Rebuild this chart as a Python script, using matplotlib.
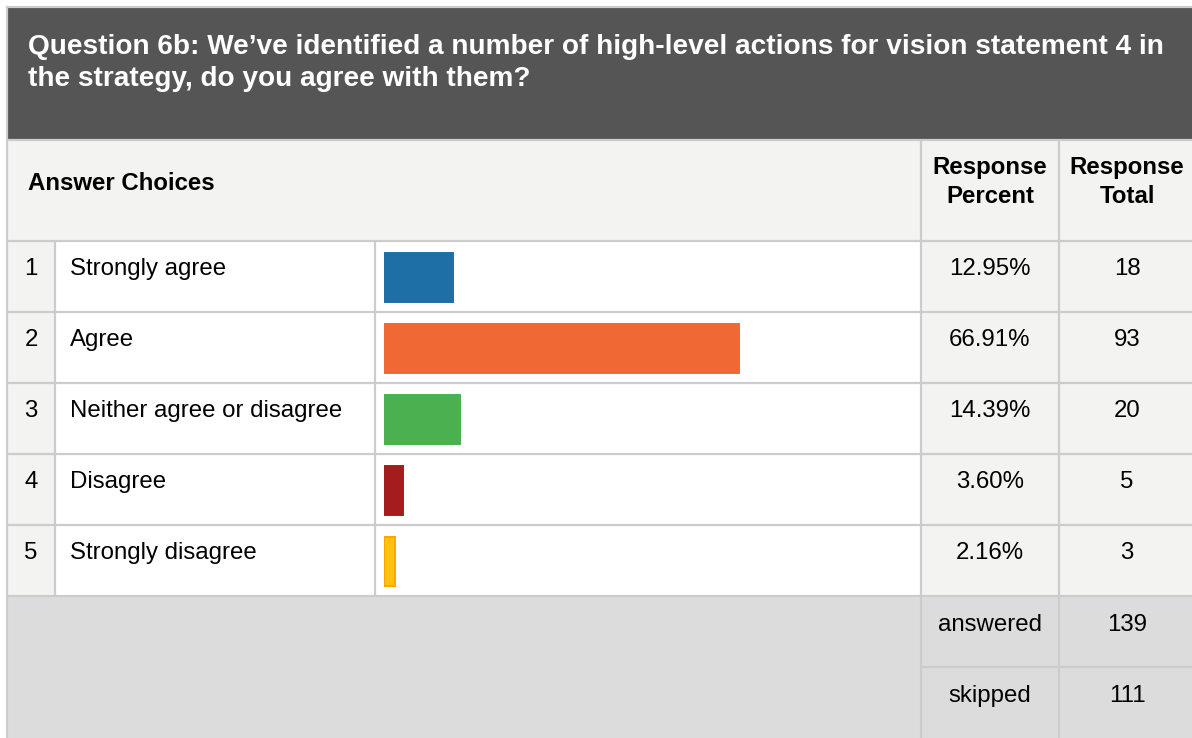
import matplotlib
matplotlib.use("Agg")
import matplotlib.pyplot as plt
from matplotlib.patches import Rectangle

plt.rcParams['font.family'] = ['Liberation Sans', 'DejaVu Sans']

title = "Question 6b: We\u2019ve identified a number of high-level actions for vision statement 4 in\nthe strategy, do you agree with them?"
choices = ["Strongly agree", "Agree", "Neither agree or disagree", "Disagree", "Strongly disagree"]
percents = [12.95, 66.91, 14.39, 3.60, 2.16]
totals = [18, 93, 20, 5, 3]
answered = 139
skipped = 111
colors = ["#1d6fa5", "#f06934", "#4ab050", "#a51c1f", "#ffc20e"]
edges = ["#1d6fa5", "#f06934", "#4ab050", "#a51c1f", "#ffa500"]

W, H = 1192, 738
fig = plt.figure(figsize=(W / 100, H / 100), dpi=100)
fig.patch.set_facecolor("white")

# background table drawn in pixel coordinates
ax = fig.add_axes([0, 0, 1, 1])
ax.set_xlim(0, W)
ax.set_ylim(H, 0)
ax.axis("off")

grid = "#cccccc"
light = "#f3f3f2"
foot = "#dcdcdc"
row_top = 241
row_h = 71
cols = [8, 55, 375, 921, 1059, W]
fs = 17.3


def rect(x0, y0, x1, y1, color):
    ax.add_patch(Rectangle((x0, y0), x1 - x0, y1 - y0, facecolor=color, edgecolor="none", zorder=0))


def hline(y, x0, x1):
    ax.plot([x0, x1], [y, y], color=grid, lw=1.6, zorder=1, solid_capstyle="butt")


def vline(x, y0, y1):
    ax.plot([x, x], [y0, y1], color=grid, lw=1.6, zorder=1, solid_capstyle="butt")


# outer border
hline(6.5, 6, W)
vline(6.8, 6, H)

# title band
rect(8, 7, W, 139, "#545554")
ax.text(28, 63, title, color="white", fontsize=20.2, fontweight="bold",
        va="center", ha="left", linespacing=1.3)

# header row
rect(8, 140, W, row_top, light)
hline(140, 8, W)
ax.text(28, 183, "Answer Choices", fontsize=fs, fontweight="bold", va="center", ha="left")
ax.text(990, 182, "Response\nPercent", fontsize=fs, fontweight="bold", va="center",
        ha="center", linespacing=1.36)
ax.text(1127, 182, "Response\nTotal", fontsize=fs, fontweight="bold", va="center",
        ha="center", linespacing=1.36)

# answer rows
for i, (c, p, t) in enumerate(zip(choices, percents, totals)):
    y0 = row_top + i * row_h
    y1 = y0 + row_h
    rect(8, y0, 55, y1, light)
    rect(55, y0, 921, y1, "white")
    rect(921, y0, W, y1, light)
    hline(y0, 8, W)
    ty = y0 + 28
    ax.text(31, ty, str(i + 1), fontsize=fs, va="center", ha="center")
    ax.text(70, ty, c, fontsize=fs, va="center", ha="left")
    ax.text(990, ty, f"{p:.2f}%", fontsize=fs, va="center", ha="center")
    ax.text(1127, ty, str(t), fontsize=fs, va="center", ha="center")

foot_top = row_top + len(choices) * row_h
# footer
rect(8, foot_top, W, H, foot)
hline(foot_top, 8, W)
hline(foot_top + row_h, 921, W)
ax.text(990, foot_top + 29, "answered", fontsize=fs, va="center", ha="center")
ax.text(1127, foot_top + 29, str(answered), fontsize=fs, va="center", ha="center")
ax.text(990, foot_top + row_h + 29, "skipped", fontsize=fs, va="center", ha="center")
ax.text(1127, foot_top + row_h + 29, str(skipped), fontsize=fs, va="center", ha="center")

# vertical grid lines
for x in cols[1:3]:
    vline(x, row_top, foot_top)
for x in cols[3:5]:
    vline(x, 140, H)

# bar axes placed over the bar column
bx0, bx1 = 384, 914
bax = fig.add_axes([bx0 / W, (H - foot_top) / H, (bx1 - bx0) / W, (foot_top - row_top) / H])
bax.set_xlim(0, 100)
bax.set_ylim(len(choices) - 0.5, -0.5)
bax.axis("off")
bax.patch.set_alpha(0)
bax.barh([i + 0.015 for i in range(len(choices))], percents, height=0.7, color=colors,
         edgecolor=edges, linewidth=1.4)

fig.savefig("out.png", dpi=100)
